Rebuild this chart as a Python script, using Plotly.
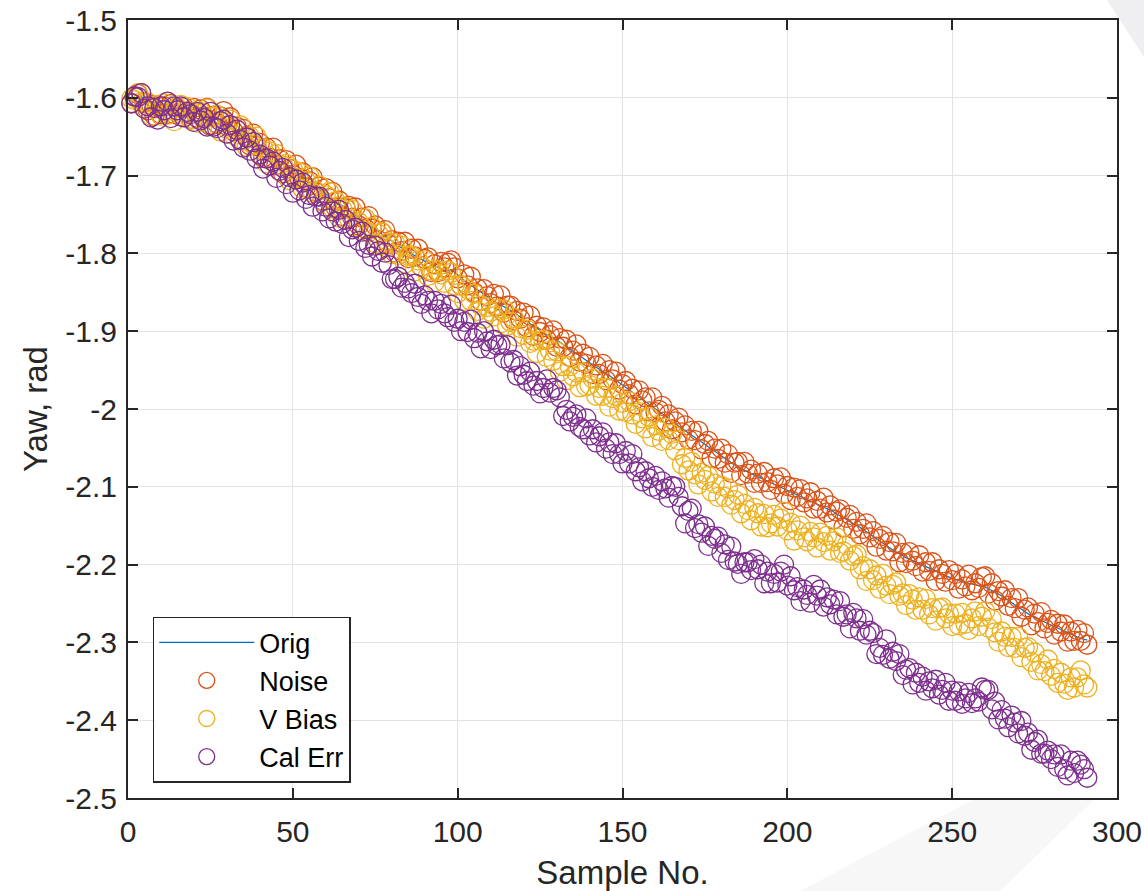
import plotly.graph_objects as go

# Yaw estimates per sample (rad)
orig = [
    -1.607, -1.603, -1.600, -1.598, -1.604, -1.610, -1.613, -1.615, -1.617, -1.618,
    -1.616, -1.614, -1.617, -1.619, -1.616, -1.614, -1.618, -1.621, -1.619, -1.617,
    -1.620, -1.623, -1.621, -1.624, -1.627, -1.625, -1.628, -1.631, -1.629, -1.632,
    -1.634, -1.637, -1.640, -1.643, -1.647, -1.650, -1.653, -1.656, -1.660, -1.663,
    -1.667, -1.670, -1.673, -1.676, -1.679, -1.682, -1.685, -1.688, -1.691, -1.694,
    -1.697, -1.700, -1.703, -1.706, -1.709, -1.712, -1.715, -1.718, -1.721, -1.724,
    -1.727, -1.730, -1.733, -1.737, -1.740, -1.743, -1.746, -1.749, -1.752, -1.755,
    -1.758, -1.761, -1.764, -1.767, -1.770, -1.773, -1.776, -1.779, -1.782, -1.785,
    -1.788, -1.790, -1.793, -1.795, -1.798, -1.800, -1.803, -1.805, -1.808, -1.810,
    -1.812, -1.814, -1.816, -1.818, -1.820, -1.822, -1.822, -1.821, -1.824, -1.828,
    -1.832, -1.835, -1.838, -1.841, -1.844, -1.847, -1.850, -1.853, -1.856, -1.859,
    -1.862, -1.864, -1.866, -1.868, -1.870, -1.873, -1.876, -1.879, -1.882, -1.885,
    -1.888, -1.891, -1.894, -1.897, -1.900, -1.903, -1.905, -1.907, -1.909, -1.911,
    -1.914, -1.917, -1.920, -1.923, -1.926, -1.929, -1.932, -1.935, -1.938, -1.941,
    -1.944, -1.947, -1.950, -1.952, -1.955, -1.957, -1.960, -1.963, -1.966, -1.969,
    -1.972, -1.975, -1.978, -1.982, -1.985, -1.988, -1.991, -1.994, -1.997, -2.000,
    -2.003, -2.006, -2.009, -2.012, -2.016, -2.019, -2.022, -2.025, -2.028, -2.031,
    -2.034, -2.037, -2.040, -2.043, -2.046, -2.049, -2.052, -2.055, -2.058, -2.061,
    -2.064, -2.067, -2.070, -2.072, -2.075, -2.077, -2.079, -2.081, -2.083, -2.085,
    -2.087, -2.089, -2.091, -2.093, -2.095, -2.097, -2.099, -2.100, -2.102, -2.104,
    -2.106, -2.108, -2.110, -2.112, -2.114, -2.116, -2.118, -2.120, -2.122, -2.124,
    -2.126, -2.128, -2.130, -2.132, -2.135, -2.137, -2.140, -2.142, -2.145, -2.147,
    -2.150, -2.152, -2.155, -2.158, -2.161, -2.164, -2.167, -2.170, -2.173, -2.176,
    -2.179, -2.181, -2.184, -2.186, -2.189, -2.191, -2.193, -2.195, -2.197, -2.199,
    -2.201, -2.203, -2.205, -2.207, -2.209, -2.211, -2.213, -2.215, -2.216, -2.218,
    -2.219, -2.221, -2.222, -2.223, -2.224, -2.225, -2.226, -2.227, -2.228, -2.229,
    -2.231, -2.233, -2.235, -2.238, -2.240, -2.243, -2.246, -2.249, -2.252, -2.255,
    -2.258, -2.261, -2.263, -2.266, -2.268, -2.270, -2.272, -2.274, -2.276, -2.278,
    -2.280, -2.282, -2.284, -2.286, -2.288, -2.290, -2.292, -2.294, -2.295, -2.296, -2.297,
]

noise = [
    -1.607, -1.599, -1.595, -1.594, -1.606, -1.616, -1.609, -1.623, -1.611, -1.621,
    -1.611, -1.621, -1.608, -1.621, -1.613, -1.624, -1.612, -1.620, -1.627, -1.613,
    -1.626, -1.615, -1.624, -1.613, -1.636, -1.623, -1.633, -1.624, -1.617, -1.636,
    -1.625, -1.643, -1.637, -1.654, -1.640, -1.649, -1.661, -1.646, -1.662, -1.658,
    -1.677, -1.664, -1.677, -1.664, -1.686, -1.679, -1.697, -1.680, -1.691, -1.699,
    -1.686, -1.703, -1.696, -1.715, -1.707, -1.702, -1.721, -1.714, -1.732, -1.716,
    -1.729, -1.721, -1.741, -1.732, -1.752, -1.742, -1.739, -1.754, -1.741, -1.764,
    -1.754, -1.768, -1.752, -1.768, -1.764, -1.783, -1.773, -1.770, -1.788, -1.783,
    -1.799, -1.785, -1.797, -1.785, -1.806, -1.794, -1.804, -1.794, -1.817, -1.807,
    -1.805, -1.824, -1.814, -1.824, -1.811, -1.818, -1.812, -1.809, -1.818, -1.832,
    -1.841, -1.827, -1.841, -1.830, -1.850, -1.845, -1.861, -1.846, -1.855, -1.864,
    -1.852, -1.868, -1.854, -1.876, -1.867, -1.867, -1.886, -1.874, -1.884, -1.876,
    -1.895, -1.880, -1.906, -1.893, -1.901, -1.895, -1.911, -1.905, -1.899, -1.920,
    -1.909, -1.920, -1.911, -1.933, -1.925, -1.917, -1.939, -1.929, -1.942, -1.933,
    -1.955, -1.944, -1.955, -1.942, -1.963, -1.950, -1.962, -1.952, -1.975, -1.968,
    -1.964, -1.981, -1.974, -1.994, -1.976, -1.989, -1.985, -2.003, -1.985, -2.004,
    -2.001, -1.996, -2.016, -2.007, -2.026, -2.016, -2.011, -2.030, -2.021, -2.039,
    -2.028, -2.040, -2.028, -2.052, -2.045, -2.041, -2.063, -2.051, -2.064, -2.051,
    -2.069, -2.058, -2.082, -2.069, -2.068, -2.085, -2.068, -2.083, -2.078, -2.095,
    -2.083, -2.095, -2.081, -2.094, -2.104, -2.089, -2.097, -2.088, -2.109, -2.099,
    -2.117, -2.101, -2.113, -2.103, -2.120, -2.115, -2.107, -2.128, -2.118, -2.128,
    -2.114, -2.133, -2.124, -2.142, -2.132, -2.129, -2.152, -2.140, -2.136, -2.154,
    -2.145, -2.161, -2.154, -2.147, -2.165, -2.157, -2.177, -2.167, -2.163, -2.182,
    -2.171, -2.183, -2.172, -2.197, -2.185, -2.198, -2.184, -2.195, -2.202, -2.188,
    -2.209, -2.197, -2.208, -2.197, -2.221, -2.206, -2.212, -2.222, -2.207, -2.220,
    -2.212, -2.231, -2.219, -2.228, -2.213, -2.233, -2.224, -2.230, -2.216, -2.215,
    -2.237, -2.224, -2.246, -2.234, -2.241, -2.233, -2.253, -2.243, -2.256, -2.243,
    -2.267, -2.258, -2.255, -2.278, -2.263, -2.274, -2.261, -2.282, -2.275, -2.271,
    -2.290, -2.276, -2.286, -2.277, -2.299, -2.286, -2.298, -2.284, -2.298, -2.288, -2.303,
]

v_bias = [
    -1.601, -1.603, -1.594, -1.606, -1.613, -1.606, -1.623, -1.614, -1.609, -1.623,
    -1.607, -1.622, -1.616, -1.630, -1.613, -1.609, -1.622, -1.612, -1.628, -1.618,
    -1.632, -1.618, -1.628, -1.614, -1.634, -1.625, -1.622, -1.643, -1.631, -1.640,
    -1.628, -1.648, -1.641, -1.635, -1.655, -1.663, -1.650, -1.660, -1.650, -1.673,
    -1.665, -1.684, -1.669, -1.682, -1.672, -1.694, -1.687, -1.685, -1.706, -1.692,
    -1.703, -1.696, -1.717, -1.707, -1.701, -1.722, -1.720, -1.713, -1.733, -1.725,
    -1.721, -1.742, -1.733, -1.754, -1.743, -1.740, -1.755, -1.744, -1.766, -1.760,
    -1.770, -1.755, -1.773, -1.766, -1.787, -1.775, -1.773, -1.792, -1.786, -1.801,
    -1.787, -1.802, -1.790, -1.813, -1.803, -1.803, -1.823, -1.809, -1.817, -1.809,
    -1.829, -1.822, -1.837, -1.822, -1.827, -1.838, -1.822, -1.825, -1.841, -1.851,
    -1.841, -1.861, -1.846, -1.861, -1.852, -1.874, -1.867, -1.884, -1.869, -1.875,
    -1.881, -1.871, -1.890, -1.872, -1.893, -1.888, -1.883, -1.907, -1.896, -1.905,
    -1.898, -1.915, -1.912, -1.928, -1.912, -1.911, -1.933, -1.925, -1.938, -1.926,
    -1.952, -1.945, -1.963, -1.945, -1.958, -1.953, -1.972, -1.953, -1.971, -1.969,
    -1.961, -1.983, -1.973, -1.983, -1.973, -1.997, -1.986, -1.983, -2.002, -1.992,
    -2.004, -1.990, -2.007, -2.019, -2.004, -2.012, -2.025, -2.010, -2.036, -2.021,
    -2.028, -2.041, -2.024, -2.040, -2.032, -2.053, -2.040, -2.071, -2.063, -2.079,
    -2.068, -2.084, -2.097, -2.082, -2.091, -2.086, -2.106, -2.096, -2.113, -2.099,
    -2.113, -2.102, -2.123, -2.117, -2.110, -2.134, -2.122, -2.130, -2.143, -2.127,
    -2.134, -2.151, -2.135, -2.152, -2.147, -2.136, -2.151, -2.141, -2.132, -2.156,
    -2.146, -2.169, -2.156, -2.150, -2.165, -2.170, -2.158, -2.165, -2.178, -2.159,
    -2.171, -2.163, -2.182, -2.170, -2.165, -2.185, -2.183, -2.175, -2.195, -2.189,
    -2.187, -2.206, -2.202, -2.221, -2.206, -2.220, -2.214, -2.231, -2.212, -2.227,
    -2.238, -2.226, -2.223, -2.240, -2.237, -2.252, -2.238, -2.245, -2.258, -2.242,
    -2.258, -2.244, -2.264, -2.256, -2.272, -2.256, -2.255, -2.269, -2.263, -2.279,
    -2.263, -2.278, -2.262, -2.276, -2.284, -2.269, -2.260, -2.279, -2.267, -2.260,
    -2.281, -2.270, -2.287, -2.299, -2.286, -2.293, -2.306, -2.293, -2.307, -2.293,
    -2.319, -2.307, -2.306, -2.325, -2.313, -2.336, -2.328, -2.337, -2.322, -2.343,
    -2.334, -2.352, -2.339, -2.353, -2.361, -2.345, -2.358, -2.345, -2.336, -2.354, -2.358,
]

cal_err = [
    -1.607, -1.598, -1.599, -1.594, -1.614, -1.611, -1.625, -1.613, -1.628, -1.611,
    -1.616, -1.605, -1.626, -1.611, -1.616, -1.611, -1.625, -1.618, -1.621, -1.631,
    -1.618, -1.629, -1.626, -1.637, -1.618, -1.637, -1.639, -1.630, -1.628, -1.646,
    -1.635, -1.655, -1.641, -1.654, -1.664, -1.651, -1.668, -1.657, -1.678, -1.673,
    -1.691, -1.678, -1.687, -1.682, -1.703, -1.694, -1.690, -1.711, -1.702, -1.722,
    -1.705, -1.719, -1.709, -1.730, -1.725, -1.740, -1.727, -1.727, -1.746, -1.740,
    -1.755, -1.746, -1.759, -1.744, -1.762, -1.757, -1.779, -1.769, -1.767, -1.784,
    -1.772, -1.793, -1.789, -1.804, -1.790, -1.797, -1.812, -1.799, -1.815, -1.833,
    -1.833, -1.830, -1.844, -1.838, -1.845, -1.851, -1.839, -1.856, -1.865, -1.854,
    -1.861, -1.877, -1.861, -1.872, -1.865, -1.877, -1.882, -1.866, -1.888, -1.884,
    -1.900, -1.888, -1.901, -1.885, -1.909, -1.902, -1.922, -1.900, -1.913, -1.923,
    -1.911, -1.918, -1.917, -1.935, -1.918, -1.940, -1.937, -1.957, -1.945, -1.956,
    -1.964, -1.952, -1.970, -1.964, -1.980, -1.973, -1.962, -1.979, -1.973, -1.976,
    -1.985, -2.009, -2.001, -2.016, -2.010, -2.007, -2.023, -2.026, -2.012, -2.034,
    -2.026, -2.043, -2.035, -2.030, -2.051, -2.043, -2.058, -2.044, -2.058, -2.070,
    -2.054, -2.070, -2.058, -2.080, -2.075, -2.093, -2.080, -2.089, -2.100, -2.086,
    -2.104, -2.093, -2.102, -2.114, -2.099, -2.100, -2.113, -2.125, -2.147, -2.131,
    -2.128, -2.153, -2.148, -2.159, -2.151, -2.176, -2.163, -2.167, -2.164, -2.185,
    -2.174, -2.194, -2.177, -2.196, -2.199, -2.212, -2.197, -2.197, -2.207, -2.193,
    -2.206, -2.200, -2.224, -2.209, -2.224, -2.212, -2.223, -2.209, -2.200, -2.227,
    -2.215, -2.233, -2.229, -2.247, -2.232, -2.239, -2.249, -2.226, -2.240, -2.232,
    -2.254, -2.242, -2.251, -2.245, -2.264, -2.247, -2.267, -2.264, -2.282, -2.262,
    -2.269, -2.285, -2.270, -2.290, -2.285, -2.288, -2.315, -2.307, -2.316, -2.296,
    -2.321, -2.312, -2.324, -2.315, -2.342, -2.335, -2.333, -2.354, -2.339, -2.352,
    -2.344, -2.362, -2.350, -2.359, -2.348, -2.367, -2.361, -2.352, -2.375, -2.362,
    -2.375, -2.363, -2.379, -2.372, -2.365, -2.378, -2.372, -2.376, -2.358, -2.361,
    -2.361, -2.386, -2.376, -2.399, -2.387, -2.398, -2.409, -2.394, -2.403, -2.417,
    -2.401, -2.420, -2.416, -2.438, -2.428, -2.425, -2.443, -2.443, -2.439, -2.450,
    -2.444, -2.460, -2.444, -2.463, -2.471, -2.452, -2.468, -2.452, -2.457, -2.463, -2.474,
]

x_ticks = [0, 50, 100, 150, 200, 250, 300]
x_tick_labels = ["0", "50", "100", "150", "200", "250", "300"]
y_ticks = [-2.5, -2.4, -2.3, -2.2, -2.1, -2.0, -1.9, -1.8, -1.7, -1.6, -1.5]
y_tick_labels = ["-2.5", "-2.4", "-2.3", "-2.2", "-2.1", "-2", "-1.9", "-1.8", "-1.7", "-1.6", "-1.5"]

BLUE = "#0072BD"
ORANGE = "#D95319"
YELLOW = "#EDB120"
PURPLE = "#7E2F8E"
INK = "#262626"
FONT = "Liberation Sans, Arial, Helvetica, sans-serif"


def samples(vals):
    return list(range(1, len(vals) + 1))


def ring_trace(vals, name, color):
    return go.Scatter(
        x=samples(vals), y=vals, name=name, mode="markers",
        marker=dict(symbol="circle-open", size=19, color=color,
                    line=dict(width=1.3, color=color)),
        cliponaxis=False,
    )


fig = go.Figure()
fig.add_trace(go.Scatter(x=samples(orig), y=orig, name="Orig", mode="lines",
                         line=dict(color=BLUE, width=1.2), cliponaxis=False))
fig.add_trace(ring_trace(noise, "Noise", ORANGE))
fig.add_trace(ring_trace(v_bias, "V Bias", YELLOW))
fig.add_trace(ring_trace(cal_err, "Cal Err", PURPLE))

axis_common = dict(
    showline=True, linecolor=INK, linewidth=2, mirror="allticks",
    ticks="inside", ticklen=10, tickwidth=1.5, tickcolor=INK,
    showgrid=True, gridcolor="#e3e3e3", gridwidth=1, zeroline=False,
    tickfont=dict(family=FONT, size=30, color=INK),
    automargin=False,
)

# faint diagonal backdrop bands in the page margins
backdrop = [
    dict(type="path", xref="paper", yref="paper", layer="below",
         path="M 0.9899,1.0257 L 1.0273,1.0257 L 1.0273,0.9524 Z",
         fillcolor="#efeff1", line=dict(width=0)),
    dict(type="path", xref="paper", yref="paper", layer="below",
         path="M 0.6795,-0.1195 L 0.8817,-0.1195 L 0.9788,0 L 0.8574,0 Z",
         fillcolor="#f7f7f8", line=dict(width=0)),
]

fig.update_layout(
    width=1144, height=891,
    margin=dict(l=128, r=27, t=20, b=93),
    paper_bgcolor="white", plot_bgcolor="white",
    font=dict(family=FONT, color=INK),
    shapes=backdrop,
    xaxis=dict(axis_common, range=[0, 300], tickvals=x_ticks, ticktext=x_tick_labels,
               ticklabelstandoff=6,
               title=dict(text="Sample No.", font=dict(family=FONT, size=33, color=INK),
                          standoff=20)),
    yaxis=dict(axis_common, range=[-2.5, -1.5], tickvals=y_ticks, ticktext=y_tick_labels,
               ticklabelstandoff=3,
               title=dict(text="Yaw, rad", font=dict(family=FONT, size=33, color=INK),
                          standoff=8)),
    legend=dict(x=0.025, y=0.233, xanchor="left", yanchor="top",
                bgcolor="white", bordercolor=INK, borderwidth=1.5,
                font=dict(family=FONT, size=27, color="black"),
                itemwidth=95, tracegroupgap=0),
    showlegend=True,
)

fig.write_html("out.html")
